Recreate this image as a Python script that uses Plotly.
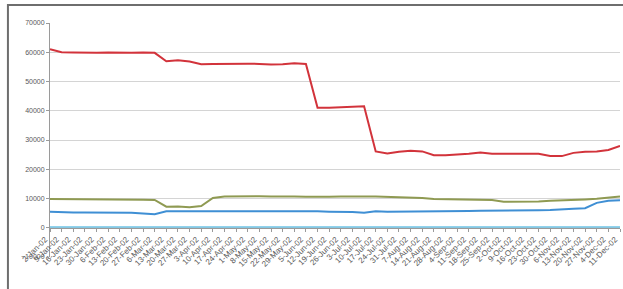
import plotly.graph_objects as go

dates = ["2-Jan-02", "9-Jan-02", "16-Jan-02", "23-Jan-02", "30-Jan-02",
         "6-Feb-02", "13-Feb-02", "20-Feb-02", "27-Feb-02",
         "6-Mar-02", "13-Mar-02", "20-Mar-02", "27-Mar-02",
         "3-Apr-02", "10-Apr-02", "17-Apr-02", "24-Apr-02",
         "1-May-02", "8-May-02", "15-May-02", "22-May-02", "29-May-02",
         "5-Jun-02", "12-Jun-02", "19-Jun-02", "26-Jun-02",
         "3-Jul-02", "10-Jul-02", "17-Jul-02", "24-Jul-02", "31-Jul-02",
         "7-Aug-02", "14-Aug-02", "21-Aug-02", "28-Aug-02",
         "4-Sep-02", "11-Sep-02", "18-Sep-02", "25-Sep-02",
         "2-Oct-02", "9-Oct-02", "16-Oct-02", "23-Oct-02", "30-Oct-02",
         "6-Nov-02", "13-Nov-02", "20-Nov-02", "27-Nov-02",
         "4-Dec-02", "11-Dec-02"]

red_series = [61000, 60000, 59900, 59800, 59800, 59900, 59800, 59800, 59900, 59800,
              56900, 57300, 56800, 55900, 56000, 56100, 56100, 56100, 56000, 55800,
              55900, 56200, 56000, 41000, 41000, 41200, 41500, 41500, 26100, 25400,
              26000, 26300, 26100, 24800, 24800, 25000, 25300, 25700, 25300, 25300,
              25300, 25300, 25300, 24500, 24500, 25600, 26000, 26100, 26600, 28000]

olive_series = [9800, 9800, 9700, 9700, 9800, 9800, 9800, 9700, 9600, 9500,
                7200, 7300, 7000, 7400, 10200, 10700, 10800, 10900, 10800, 10700,
                10800, 10700, 10600, 10500, 10600, 10700, 10800, 10700, 10700, 10600,
                10600, 10500, 10200, 9800, 9700, 9700, 9600, 9500, 9500, 8900,
                8900, 8900, 9000, 9200, 9300, 9500, 9700, 9900, 10300, 10700]

blue_series = [5500, 5300, 5200, 5200, 5200, 5200, 5200, 5100, 4900, 4600,
               5600, 5600, 5600, 5600, 5700, 5800, 5800, 5800, 5800, 5800,
               5800, 5800, 5800, 5600, 5500, 5500, 5400, 5100, 5600, 5500,
               5500, 5600, 5600, 5600, 5700, 5700, 5700, 5800, 5800, 5900,
               5900, 6000, 6000, 6100, 6200, 6500, 6700, 8500, 9200, 9400]

aqua_series = [250, 250, 250, 250, 250, 250, 250, 250, 250, 250,
               250, 250, 250, 250, 250, 250, 250, 250, 250, 250,
               250, 250, 250, 250, 250, 250, 250, 250, 250, 250,
               250, 250, 250, 250, 250, 250, 250, 250, 250, 250,
               250, 250, 250, 250, 250, 250, 250, 250, 250, 250]

y_ticks = [-10000, 0, 10000, 20000, 30000, 40000, 50000, 60000, 70000]

fig = go.Figure()
series = [
    (aqua_series, "#6cc3e6", 1.6),
    (blue_series, "#3f8fd4", 2),
    (olive_series, "#8f9a52", 2),
    (red_series, "#d2333b", 2),
]
for vals, col, w in series:
    fig.add_trace(go.Scatter(x=dates, y=vals, mode="lines",
                             line=dict(color=col, width=w), showlegend=False,
                             hoverinfo="skip"))

font = dict(family="Liberation Sans, Arial, sans-serif", size=7, color="#595959")
xfont = dict(family="Liberation Sans, Arial, sans-serif", size=8, color="#595959")

fig.update_layout(
    width=623, height=289,
    margin=dict(l=50, r=3, t=23, b=32),
    paper_bgcolor="white", plot_bgcolor="white",
    font=font,
    hovermode=False,
    xaxis=dict(
        type="category", range=[0, len(dates) - 1],
        anchor="free", position=0.125,
        showgrid=False, zeroline=False,
        showline=True, linecolor="#9a9a9a", linewidth=1,
        ticks="outside", ticklen=3, tickcolor="#9a9a9a",
        tickangle=-45, tickfont=xfont, automargin=False,
        ticklabelshift=-5,
    ),
    yaxis=dict(
        range=[-10000, 70000], tickvals=y_ticks, tickformat="d",
        showgrid=True, gridcolor="#d4d4d4", gridwidth=1,
        zeroline=False,
        showline=True, linecolor="#9a9a9a", linewidth=1,
        ticks="outside", ticklen=3, tickcolor="#9a9a9a",
        tickfont=font, automargin=False,
    ),
    shapes=[dict(type="rect", xref="paper", yref="paper",
                 x0=-0.0738, x1=1.2, y0=-0.3, y1=1.077,
                 line=dict(color="#6e6e6e", width=2), layer="above")],
)

fig.write_html("out.html",
               config={"displayModeBar": False, "staticPlot": True},
               post_script="document.body.style.margin='0px';document.body.style.overflow='hidden';")
